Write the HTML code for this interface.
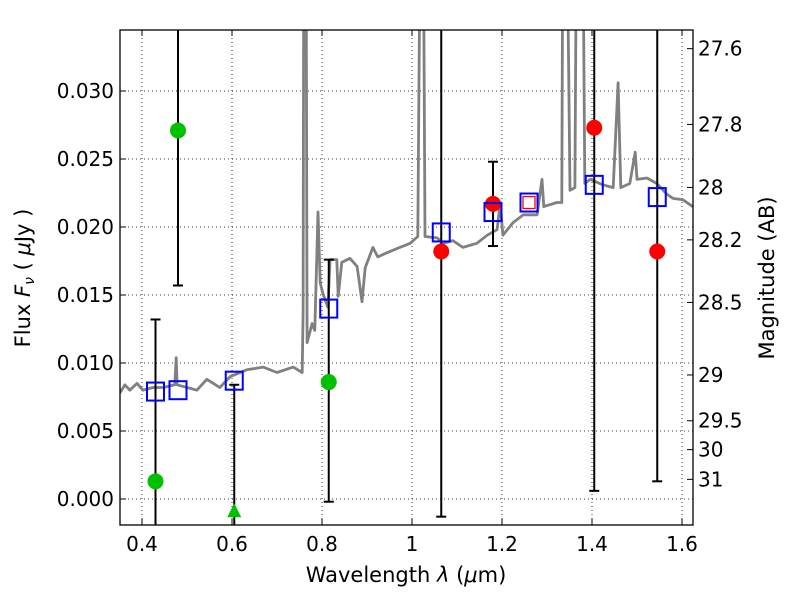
<!DOCTYPE html>
<html><head><meta charset="utf-8"><style>
html,body{margin:0;padding:0;background:#fff;width:800px;height:600px;overflow:hidden}
svg{display:block;font-family:"DejaVu Sans","Liberation Sans",sans-serif}
</style></head><body>
<svg id="chart" width="800" height="600">
<defs><clipPath id="clip"><rect x="120" y="30" width="573" height="495"/></clipPath></defs>
<rect x="0" y="0" width="800" height="600" fill="#fff"/>
<g id="grid"></g>
<g id="plot" clip-path="url(#clip)"></g>
<rect x="120" y="30" width="573" height="495" fill="none" stroke="#000" stroke-width="1.3"/>
<g id="axes"></g>
<text x="406" y="582" font-size="21" text-anchor="middle">Wavelength  <tspan font-style="italic">λ</tspan> (<tspan font-style="italic">μ</tspan>m)</text>
<text transform="translate(30,278) rotate(-90)" font-size="21" text-anchor="middle">Flux  <tspan font-style="italic">F<tspan font-size="14" dy="4">ν</tspan></tspan><tspan dy="-4">  ( </tspan><tspan font-style="italic">μ</tspan>Jy )</text>
<text transform="translate(774,278) rotate(-90)" font-size="21" text-anchor="middle">Magnitude (AB)</text>
</svg>
<script>
const specWl=[0.351,0.362,0.373,0.389,0.402,0.424,0.447,0.473,0.476,0.478,0.500,0.522,0.544,0.573,0.596,0.633,0.669,0.700,0.736,0.756,0.758,0.760,0.764,0.767,0.778,0.784,0.791,0.796,0.802,0.813,0.818,0.833,0.836,0.844,0.862,0.878,0.889,0.896,0.913,0.924,0.944,0.973,0.996,1.013,1.020,1.024,1.029,1.056,1.069,1.091,1.113,1.144,1.167,1.189,1.196,1.202,1.224,1.247,1.278,1.289,1.293,1.322,1.333,1.336,1.342,1.351,1.362,1.367,1.378,1.384,1.396,1.424,1.447,1.458,1.464,1.484,1.496,1.500,1.522,1.544,1.567,1.580,1.602,1.624];
const specFlux=[0.0078,0.0084,0.0080,0.0085,0.0080,0.0082,0.0082,0.0084,0.0104,0.0084,0.0082,0.0080,0.0088,0.0082,0.0090,0.0095,0.0097,0.0093,0.0097,0.0093,0.0137,0.05,0.05,0.0115,0.0129,0.0124,0.0211,0.0159,0.0151,0.0141,0.0176,0.0176,0.0149,0.0174,0.0177,0.0171,0.0145,0.0170,0.0185,0.0178,0.0181,0.0185,0.0188,0.0193,0.05,0.05,0.0193,0.0192,0.0188,0.0190,0.0185,0.0188,0.0194,0.0198,0.0218,0.0194,0.0203,0.0209,0.0209,0.0235,0.0215,0.0218,0.0218,0.05,0.05,0.0227,0.0229,0.05,0.05,0.0232,0.0235,0.0231,0.0229,0.0306,0.0229,0.0232,0.0255,0.0235,0.0236,0.0232,0.0224,0.0221,0.0220,0.0215];
const greenWl=[0.43,0.48,0.815];
const greenFlux=[0.0013,0.0271,0.0086];
const triWl=[0.605];
const triFlux=[-0.0009];
const redWl=[1.065,1.18,1.405,1.545];
const redFlux=[0.0182,0.0217,0.0273,0.0182];
const sqWl=[0.43,0.48,0.605,0.815,1.065,1.18,1.26,1.405,1.545];
const sqFlux=[0.0079,0.0080,0.0087,0.0140,0.0196,0.0211,0.0218,0.0231,0.0222];
const errWl=[0.43,0.48,0.605,0.815,1.065,1.18,1.405,1.545];
const errLo=[-0.01,0.0157,-0.01,-0.0002,-0.0013,0.0186,0.0006,0.0013];
const errHi=[0.0132,0.05,0.0084,0.0176,0.05,0.0248,0.05,0.05];
const xTicks=[0.4,0.6,0.8,1.0,1.2,1.4,1.6];
const xTickLabels=["0.4","0.6","0.8","1","1.2","1.4","1.6"];
const yTicks=[0,0.005,0.01,0.015,0.02,0.025,0.03];
const yTickLabels=["0.000","0.005","0.010","0.015","0.020","0.025","0.030"];
const magTicks=[27.6,27.8,28,28.2,28.5,29,29.5,30,31];
const magLabels=["27.6","27.8","28","28.2","28.5","29","29.5","30","31"];

const NS="http://www.w3.org/2000/svg";
const X=v=>142+(v-0.4)*450;
const Y=v=>499-v*13600;
function mk(tag,attrs,parent){const e=document.createElementNS(NS,tag);for(const k in attrs)e.setAttribute(k,attrs[k]);parent.appendChild(e);return e;}
const grid=document.getElementById('grid'),plot=document.getElementById('plot'),axes=document.getElementById('axes');
xTicks.forEach((t,i)=>{
  const g=mk('line',{x1:X(t),x2:X(t),y1:30,y2:525,stroke:'#000','stroke-width':0.8,'stroke-dasharray':'1,3'},grid);
  
  
  mk('line',{x1:X(t),x2:X(t),y1:525,y2:519,stroke:'#000'},axes);
  mk('line',{x1:X(t),x2:X(t),y1:30,y2:36,stroke:'#000'},axes);
  const l=mk('text',{x:X(t),y:551,'font-size':20,'text-anchor':'middle'},axes);l.textContent=xTickLabels[i];
  
  
});
yTicks.forEach((t,i)=>{
  const g=mk('line',{x1:120,x2:693,y1:Y(t),y2:Y(t),stroke:'#000','stroke-width':0.8,'stroke-dasharray':'1,3'},grid);
  
  
  mk('line',{x1:120,x2:126,y1:Y(t),y2:Y(t),stroke:'#000'},axes);
  const l=mk('text',{x:114,y:Y(t)+7,'font-size':20,'text-anchor':'end'},axes);l.textContent=yTickLabels[i];
  
  
});
magTicks.forEach((m,i)=>{
  const y=Y(Math.pow(10,-0.4*(m-23.9)));
  mk('line',{x1:693,x2:687,y1:y,y2:y,stroke:'#000'},axes);
  const l=mk('text',{x:698,y:y+7,'font-size':20},axes);l.textContent=magLabels[i];
  
  
});
let d=specWl.map((w,i)=>(i?'L':'M')+X(w).toFixed(1)+','+Y(specFlux[i]).toFixed(1)).join('');
const sp=mk('path',{d:d,fill:'none',stroke:'#808080','stroke-width':2.8,'stroke-linejoin':'round'},plot);


errWl.forEach((w,i)=>{
  const x=X(w);
  const e=mk('g',{},plot);
  
  
  mk('line',{x1:x,x2:x,y1:Y(errLo[i]),y2:Y(errHi[i]),stroke:'#000','stroke-width':2},e);
  [errLo[i],errHi[i]].forEach(v=>mk('line',{x1:x-5,x2:x+5,y1:Y(v),y2:Y(v),stroke:'#000','stroke-width':2},e));
});
greenWl.forEach((w,i)=>{
  const c=mk('circle',{cx:X(w),cy:Y(greenFlux[i]),r:8,fill:'#00c000'},plot);
  
  
});
triWl.forEach((w,i)=>{
  const x=X(w),y=Y(triFlux[i]);
  const t=mk('polygon',{points:`${x},${y-8} ${x-7},${y+6} ${x+7},${y+6}`,fill:'#00c000'},plot);
  
  
});
redWl.forEach((w,i)=>{
  const c=mk('circle',{cx:X(w),cy:Y(redFlux[i]),r:8,fill:'#ff0000'},plot);
  
  
});
sqWl.forEach((w,i)=>{
  const x=X(w),y=Y(sqFlux[i]);
  if(Math.abs(w-1.26)<0.001){
    const r=mk('rect',{x:x-6,y:y-6,width:12,height:12,fill:'none',stroke:'#ff0000','stroke-width':1.3},plot);
    
    
  }
  const s=mk('rect',{x:x-8.5,y:y-9,width:17,height:18,fill:'none',stroke:'#0000ff','stroke-width':2},plot);
  
  
});
</script>
</body></html>
